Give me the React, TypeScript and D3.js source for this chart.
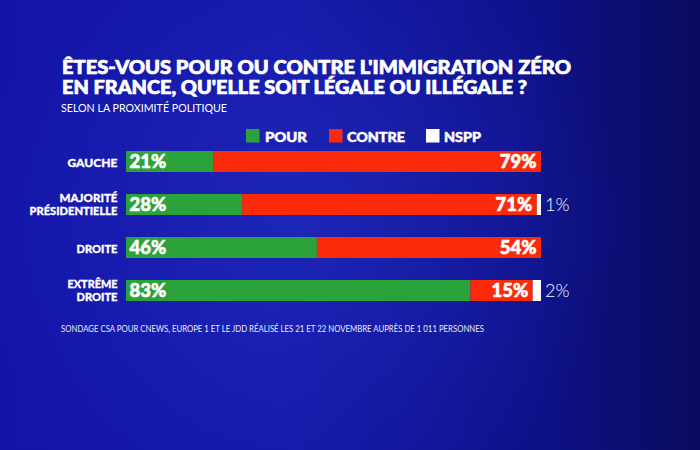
import React from "react";
import * as d3 from "d3";

const categories = ["GAUCHE", "MAJORITÉ PRÉSIDENTIELLE", "DROITE", "EXTRÊME DROITE"];
const categoryLines = [["GAUCHE"], ["MAJORITÉ", "PRÉSIDENTIELLE"], ["DROITE"], ["EXTRÊME", "DROITE"]];
const categoryLineWidths = [[50], [58, 88], [41], [50, 41]];
const pour = [21, 28, 46, 83];
const contre = [79, 71, 54, 15];
const nspp = [0, 1, 0, 2];
const legendLabels = ["POUR", "CONTRE", "NSPP"];
const titleLines = ["ÊTES-VOUS POUR OU CONTRE L'IMMIGRATION ZÉRO", "EN FRANCE, QU'ELLE SOIT LÉGALE OU ILLÉGALE ?"];
const subtitle = "SELON LA PROXIMITÉ POLITIQUE";
const footer = "SONDAGE CSA POUR CNEWS, EUROPE 1 ET LE JDD RÉALISÉ LES 21 ET 22 NOVEMBRE AUPRÈS DE 1 011 PERSONNES";

const GREEN = "#2ba33a";
const RED = "#fb2a0b";
const WHITE = "#ffffff";
const FONT = "Lato, 'Open Sans', sans-serif";

export default function App() {
  const W = 700, H = 450;
  const x = d3.scaleLinear().domain([0, 100]).range([126, 541]);
  const y = d3.scaleBand<string>().domain(categories).range([140, 312]).paddingInner(22 / 43).paddingOuter(11 / 43);
  const bw = y.bandwidth();

  const legendItems = [
    { label: legendLabels[0], color: GREEN, sx: 246, tx: 265, tw: 42 },
    { label: legendLabels[1], color: RED, sx: 329, tx: 347, tw: 58 },
    { label: legendLabels[2], color: WHITE, sx: 426, tx: 444, tw: 37 },
  ];

  const bold = { fill: "#fff", stroke: "#fff", strokeWidth: 0.5, fontFamily: FONT, fontWeight: 900 } as const;

  return (
    <svg width={W} height={H} style={{ position: "absolute", left: 0, top: 0, display: "block" }}>
      <defs>
        <linearGradient id="bg" x1="0" y1="0" x2="700" y2="0" gradientUnits="userSpaceOnUse">
          <stop offset="0" stopColor="#1315a8" />
          <stop offset="0.4" stopColor="#1316a6" />
          <stop offset="0.75" stopColor="#0e118a" />
          <stop offset="1" stopColor="#0a0c5e" />
        </linearGradient>
        <radialGradient id="glow" cx="300" cy="220" r="320" gradientUnits="userSpaceOnUse">
          <stop offset="0" stopColor="#2a3ad0" stopOpacity={0.45} />
          <stop offset="1" stopColor="#2a3ad0" stopOpacity={0} />
        </radialGradient>
      </defs>
      <rect x={0} y={0} width={W} height={H} fill="url(#bg)" />
      <rect x={0} y={0} width={W} height={H} fill="url(#glow)" />

      {titleLines.map((t, i) => (
        <text key={i} x={62} y={74 + i * 20} {...bold} strokeWidth={0.7} fontSize={18}
          textLength={i === 0 ? 509 : 465} lengthAdjust="spacingAndGlyphs">{t}</text>
      ))}
      <text x={61} y={112} fill="#fff" fontFamily={FONT} fontWeight={400} fontSize={11}
        textLength={166} lengthAdjust="spacingAndGlyphs">{subtitle}</text>

      {legendItems.map((d, i) => (
        <g key={i}>
          <rect x={d.sx} y={129} width={13.5} height={13.5} fill={d.color} />
          <text x={d.tx} y={142} {...bold} fontSize={14}
            textLength={d.tw} lengthAdjust="spacingAndGlyphs">{d.label}</text>
        </g>
      ))}

      {categories.map((c, i) => {
        const y0 = y(c)!;
        const cy = y0 + bw / 2;
        const lines = categoryLines[i];
        const x0 = x(0), x1 = x(pour[i]), x2 = x(pour[i] + contre[i]), x3 = x(pour[i] + contre[i] + nspp[i]);
        return (
          <g key={c}>
            {lines.map((l, j) => (
              <text key={j} x={117.5} y={lines.length === 1 ? cy + 5 : cy - 3 + j * 13.3} textAnchor="end"
                {...bold} strokeWidth={0.3} fontSize={lines.length === 1 ? 12 : 11}
                textLength={categoryLineWidths[i][j]} lengthAdjust="spacingAndGlyphs">{l}</text>
            ))}
            <rect x={x0} y={y0} width={x1 - x0} height={bw} fill={GREEN} />
            <rect x={x1} y={y0} width={x2 - x1} height={bw} fill={RED} />
            {nspp[i] > 0 && <rect x={x2} y={y0} width={x3 - x2} height={bw} fill={WHITE} />}
            <text x={x0 + 3.5} y={cy + 6.5} {...bold} strokeWidth={0.6} fontSize={18.5}>{pour[i]}%</text>
            <text x={x2 - 4.5} y={cy + 6.5} textAnchor="end" {...bold} strokeWidth={0.6} fontSize={18.5}>{contre[i]}%</text>
            {nspp[i] > 0 && (
              <text x={x3 + 4} y={cy + 6.5} fill="#fff" fontFamily={FONT} fontWeight={300} fontSize={18}>{nspp[i]}%</text>
            )}
          </g>
        );
      })}

      <text x={61} y={332} fill="#fff" fontFamily={FONT} fontWeight={400} fontSize={9}
        textLength={423} lengthAdjust="spacingAndGlyphs" opacity={0.9}>{footer}</text>
    </svg>
  );
}
